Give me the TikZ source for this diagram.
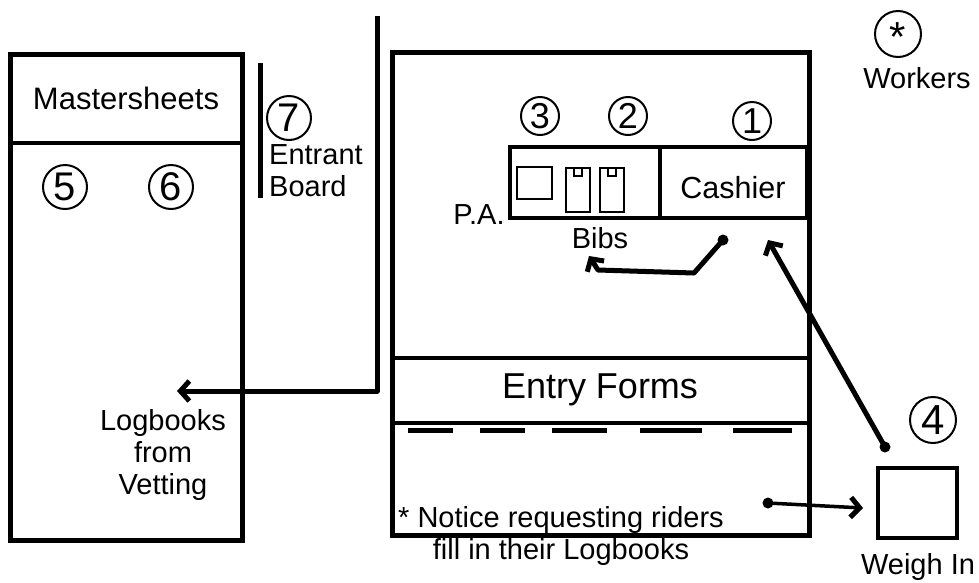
\documentclass[tikz,border=0pt]{standalone}
\usepackage{fontspec}
\setmainfont{Liberation Sans}
\usetikzlibrary{arrows.meta}
\tikzset{
  wall/.style={draw, line width=5pt},
  inner/.style={draw, line width=3.5pt},
  thin/.style={draw, line width=2.6pt},
  num/.style={circle, draw, line width=2pt, minimum size=44pt, inner sep=0pt, font=\fontsize{40}{40}\selectfont},
  smallnum/.style={num, minimum size=38pt, font=\fontsize{36}{36}\selectfont},
  lbl/.style={inner sep=0pt, font=\fontsize{29}{32}\selectfont},
  arr/.style={line width=5pt, line join=round, -{Straight Barb[length=9pt,width=20pt,line width=5pt]}},
  dot/.style={circle, fill, inner sep=0pt, minimum size=11pt},
  dashseg/.style={line width=5pt}
}
\begin{document}
\begin{tikzpicture}[x=1pt,y=-1pt]
\useasboundingbox (0,0) rectangle (979,582);
% left block
\draw[wall] (10,54) rectangle (242,540);
\draw[inner] (10,143) -- (242,143);
\node[lbl, font=\fontsize{31}{34}\selectfont] (master) at (126,98) {Mastersheets};
\node[num] (n5) at (65,187) {5};
\node[num] (n6) at (171,187) {6};
\node[lbl, align=center] (logb) at (163,455) {Logbooks\\from\\Vetting};
% entrant board
\draw[line width=5pt] (260,63) -- (260,198);
\node[num] (n7) at (289,118) {7};
\node[lbl, anchor=west, align=left] (entrant) at (269,171) {Entrant\\Board};
% main block
\draw[wall] (392,52) rectangle (809,535);
\draw[inner] (392,358) -- (809,358);
\draw[inner] (392,423) -- (809,423);
\node[lbl, font=\fontsize{36}{40}\selectfont] (entry) at (600,390) {Entry Forms};
\foreach \a/\b in {408/453,480/525,552/607,640/702,733/792}
  \draw[dashseg] (\a,430) -- (\b,430);
% cashier / bibs
\draw[inner] (510,147) rectangle (807,218);
\draw[inner] (660,147) -- (660,218);
\node[lbl, font=\fontsize{30.5}{34}\selectfont] (cashier) at (733,188) {Cashier};
\draw[thin] (517,167) rectangle (552,199);
\draw[thin] (566,168) rectangle (590,212);
\draw[thin] (574,168) rectangle (582,176);
\draw[thin] (600,168) rectangle (624,212);
\draw[thin] (608,168) rectangle (616,176);
\node[lbl] (pa) at (479,215) {P.A.};
\node[lbl] (bibs) at (600,238) {Bibs};
\node[smallnum] (n3) at (540,116) {3};
\node[smallnum] (n2) at (628,116) {2};
\node[smallnum] (n1) at (752,121) {1};
% weigh in
\draw[inner] (878,468) rectangle (957,538);
\node[lbl] (weigh) at (918,567) {Weigh In};
\node[num, minimum size=46pt, font=\fontsize{42}{42}\selectfont] (n4) at (933,420) {4};
% workers
\node[num, minimum size=46pt] (work) at (898,34) {};
\node[inner sep=0pt, font=\fontsize{42}{42}\selectfont, anchor=north] (star) at (898,22) {*};
\node[lbl] (workers) at (917,78) {Workers};
% notice
\node[lbl, align=center] (notice) at (561,536) {* Notice requesting riders\\fill in their Logbooks};
% connectors
\coordinate (vtop) at (377,16);
\coordinate (vcorner) at (377,391);
\coordinate (logtip) at (177,391);
\draw[arr] (vtop) -- (vcorner) -- (logtip);
\node[dot] (cdot) at (723,240) {};
\coordinate (bend1) at (694,273);
\coordinate (bend2) at (598,270);
\coordinate (bibtip) at (589,256);
\draw[arr] (cdot.center) -- (bend1) -- (bend2) -- (bibtip);
\node[dot] (wdot) at (885,447) {};
\coordinate (cashtip) at (768,240);
\draw[arr] (wdot.center) -- (cashtip);
\node[dot] (ndot) at (768,503) {};
\coordinate (weightip) at (863,508);
\draw[arr, line width=3.5pt] (ndot.center) -- (weightip);
\end{tikzpicture}
\end{document}
